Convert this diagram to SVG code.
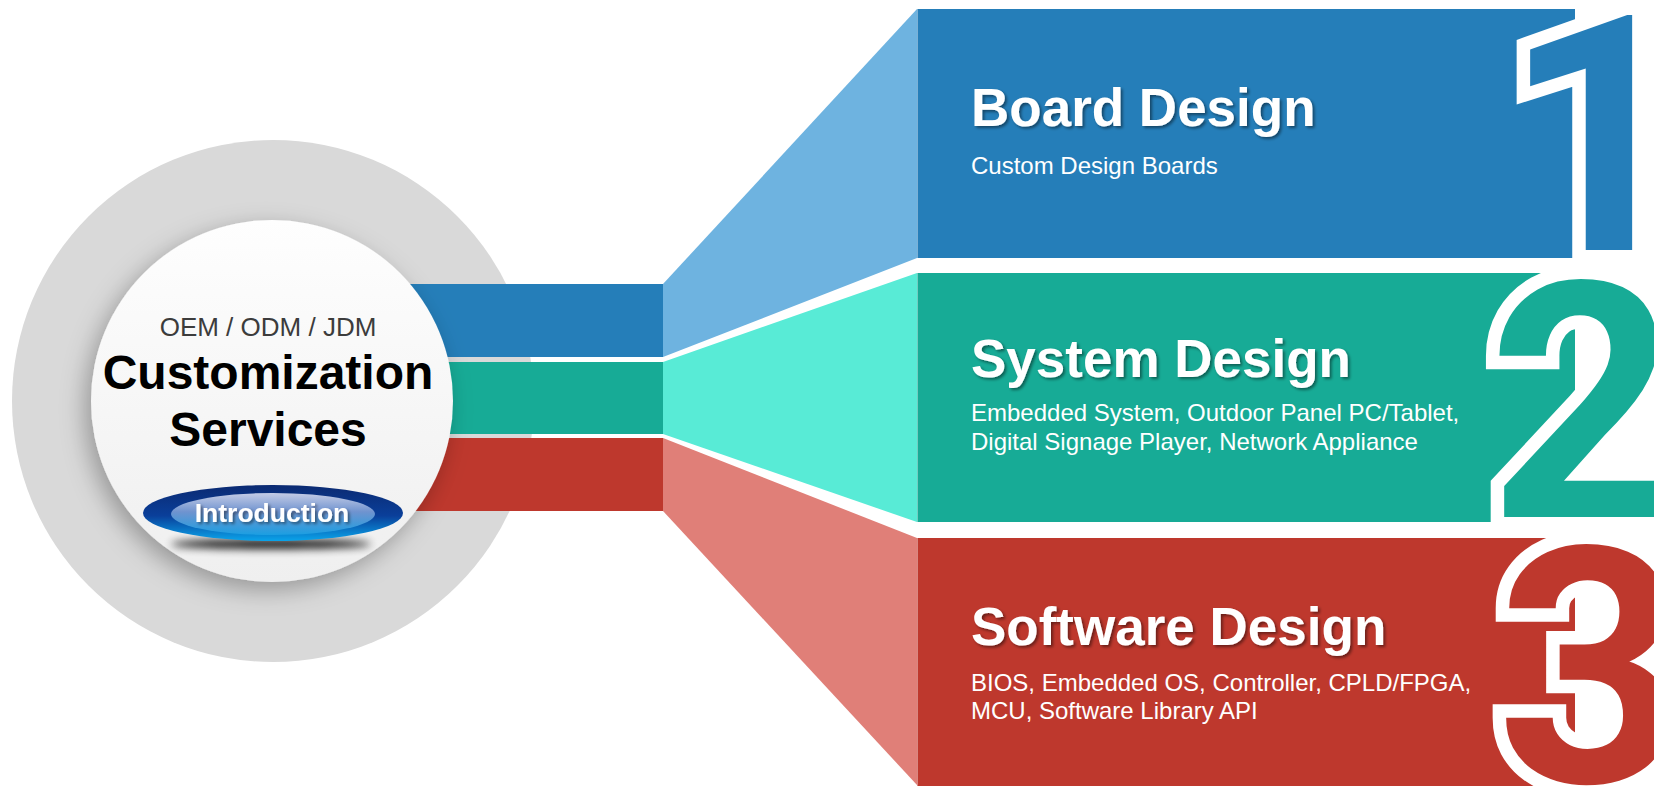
<svg xmlns="http://www.w3.org/2000/svg" width="1654" height="786" viewBox="0 0 1654 786">
<defs>
<style>
.f{font-family:"Liberation Sans",Arial,sans-serif}
.title{font-weight:bold;font-size:53px;fill:#fff}
.sub{font-size:24px;fill:#fff}
.digit{font-family:Roboto,"Liberation Sans",Arial,sans-serif;font-weight:700;font-size:330px;stroke:#fff;stroke-width:27px;stroke-linejoin:miter;paint-order:stroke}
</style>
<linearGradient id="gInner" x1="0" y1="0" x2="0" y2="1">
<stop offset="0" stop-color="#fefefe"/>
<stop offset="1" stop-color="#efefef"/>
</linearGradient>
<linearGradient id="gBtnOuter" x1="0" y1="0" x2="0" y2="1">
<stop offset="0" stop-color="#0b2a72"/>
<stop offset="0.55" stop-color="#0a3f9a"/>
<stop offset="1" stop-color="#0aa4ea"/>
</linearGradient>
<linearGradient id="gBtnInner" x1="0" y1="0" x2="0" y2="1">
<stop offset="0" stop-color="#c4cce6"/>
<stop offset="0.45" stop-color="#6f93cf"/>
<stop offset="1" stop-color="#1b9fe2"/>
</linearGradient>
<filter id="fCircleShadow" x="-30%" y="-30%" width="160%" height="160%">
<feDropShadow dx="-6" dy="8" stdDeviation="12" flood-color="#000" flood-opacity="0.3"/>
</filter>
<filter id="fTextShadow" x="-10%" y="-20%" width="120%" height="150%">
<feDropShadow dx="2" dy="2" stdDeviation="1.5" flood-color="#000" flood-opacity="0.45"/>
</filter>
<filter id="fBlur" x="-30%" y="-300%" width="160%" height="700%">
<feGaussianBlur stdDeviation="4"/>
</filter>
</defs>

<rect width="1654" height="786" fill="#fff"/>

<g id="center-ring">
<circle cx="273" cy="401" r="261" fill="#d9d9d9"/>
</g>

<g id="connectors">
<rect x="380" y="284" width="283" height="73" fill="#257eb9"/>
<rect x="380" y="362" width="283" height="72" fill="#17ab96"/>
<rect x="380" y="438" width="283" height="73" fill="#be382d"/>
<polygon points="663,284 917,9 917,258 663,357" fill="#6eb3e0"/>
<polygon points="663,362 917,273 917,522 663,434" fill="#58ebd6"/>
<polygon points="663,438 917,538 917,785 663,511" fill="#e07f78"/>
</g>

<g id="node-center">
<circle cx="272" cy="401" r="181" fill="url(#gInner)" filter="url(#fCircleShadow)"/>
<text class="f" x="268" y="336" text-anchor="middle" font-size="26" fill="#3c3c3c">OEM / ODM / JDM</text>
<text class="f" x="268" y="389" text-anchor="middle" font-size="48" font-weight="bold" fill="#000">Customization</text>
<text class="f" x="268" y="446" text-anchor="middle" font-size="48" font-weight="bold" fill="#000">Services</text>
<g id="btn-introduction">
<ellipse cx="271" cy="544" rx="100" ry="5" fill="#000" opacity="0.9" filter="url(#fBlur)"/>
<ellipse cx="273" cy="513" rx="130" ry="28" fill="url(#gBtnOuter)"/>
<ellipse cx="273" cy="514" rx="102" ry="21" fill="url(#gBtnInner)"/>
<text class="f" x="272" y="522" text-anchor="middle" font-size="26.5" font-weight="bold" fill="#fff" filter="url(#fTextShadow)">Introduction</text>
</g>
</g>

<g id="node-board">
<rect x="917" y="9" width="658" height="249" fill="#257eb9"/>
<line x1="917.5" y1="9" x2="917.5" y2="258" stroke="#fff" stroke-opacity="0.4"/>
<text class="f title" x="971" y="126" filter="url(#fTextShadow)">Board Design</text>
<text class="f sub" x="971" y="174">Custom Design Boards</text>
<text class="digit" x="1503" y="250" fill="#257eb9">1</text>
</g>

<g id="node-system">
<rect x="917" y="273" width="658" height="249" fill="#17ab96"/>
<line x1="917.5" y1="273" x2="917.5" y2="522" stroke="#fff" stroke-opacity="0.4"/>
<text class="f title" x="971" y="377" filter="url(#fTextShadow)">System Design</text>
<text class="f sub" x="971" y="421">Embedded System, Outdoor Panel PC/Tablet,</text>
<text class="f sub" x="971" y="450">Digital Signage Player, Network Appliance</text>
<text class="digit" x="1488" y="517" fill="#17ab96">2</text>
</g>

<g id="node-software">
<rect x="917" y="538" width="658" height="248" fill="#be382d"/>
<line x1="917.5" y1="538" x2="917.5" y2="786" stroke="#fff" stroke-opacity="0.4"/>
<text class="f title" x="971" y="645" filter="url(#fTextShadow)">Software Design</text>
<text class="f sub" x="971" y="691">BIOS, Embedded OS, Controller, CPLD/FPGA,</text>
<text class="f sub" x="971" y="719">MCU, Software Library API</text>
<text class="digit" x="1496" y="782" fill="#be382d">3</text>
</g>
</svg>
